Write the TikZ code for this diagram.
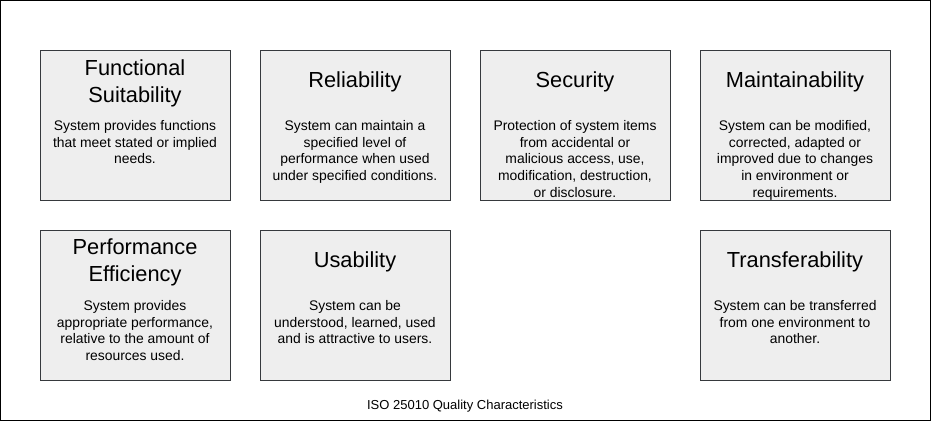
\documentclass[tikz,border=0pt]{standalone}
\usepackage{fontspec}
\setmainfont{Liberation Sans}
\definecolor{boxfill}{HTML}{EEEEEE}
\definecolor{boxline}{HTML}{36393D}
\begin{document}
\begin{tikzpicture}[x=1pt,y=-1pt,
  qbox/.style={draw=boxline,fill=boxfill,line width=1pt,minimum width=190pt,minimum height=150pt,inner sep=0pt},
  ttl/.style={anchor=north,align=center,inner sep=0pt,font=\fontsize{21.8}{27}\selectfont},
  desc/.style={anchor=north,align=center,inner sep=0pt,font=\fontsize{13.9}{16.75}\selectfont},
  caption/.style={anchor=north,inner sep=0pt,font=\fontsize{13}{15}\selectfont}]
  \useasboundingbox (0,0) rectangle (931,421);
  \node[draw=black,line width=1pt,minimum width=930pt,minimum height=420pt,inner sep=0pt] (frame) at (465.5,210.5) {};

  % first row
  \node[qbox] (fs) at (135,125) {};
  \node[ttl] (fsT) at (135,59) {Functional\\Suitability};
  \node[desc] (fsD) at (135,120) {System provides functions\\that meet stated or implied\\needs.};

  \node[qbox] (rel) at (355,125) {};
  \node[ttl] (relT) at (355,71) {Reliability};
  \node[desc] (relD) at (355,120) {System can maintain a\\specified level of\\performance when used\\under specified conditions.};

  \node[qbox] (sec) at (575,125) {};
  \node[ttl] (secT) at (575,71) {Security};
  \node[desc] (secD) at (575,120) {Protection of system items\\from accidental or\\malicious access, use,\\modification, destruction,\\or disclosure.};

  \node[qbox] (mnt) at (795,125) {};
  \node[ttl] (mntT) at (795,71) {Maintainability};
  \node[desc] (mntD) at (795,120) {System can be modified,\\corrected, adapted or\\improved due to changes\\in environment or\\requirements.};

  % second row
  \node[qbox] (pe) at (135,305) {};
  \node[ttl] (peT) at (135,239) {Performance\\Efficiency};
  \node[desc] (peD) at (135,300) {System provides\\appropriate performance,\\relative to the amount of\\resources used.};

  \node[qbox] (usa) at (355,305) {};
  \node[ttl] (usaT) at (355,251) {Usability};
  \node[desc] (usaD) at (355,300) {System can be\\understood, learned, used\\and is attractive to users.};

  \node[qbox] (trf) at (795,305) {};
  \node[ttl] (trfT) at (795,251) {Transferability};
  \node[desc] (trfD) at (795,300) {System can be transferred\\from one environment to\\another.};

  \node[caption] (cap) at (465,400) {ISO 25010 Quality Characteristics};
\end{tikzpicture}
\end{document}
